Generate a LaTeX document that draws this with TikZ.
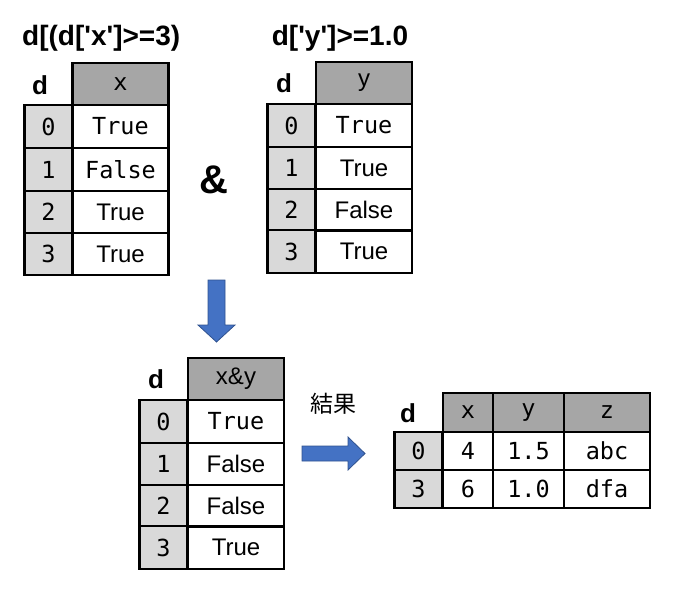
\documentclass[tikz,border=0pt]{standalone}
\usepackage{fontspec}
\setmainfont{Liberation Sans}[Ligatures=TeXOff]
\newfontfamily\monofont{DejaVu Sans Mono}
\newfontfamily\cjkfont{Noto Sans CJK JP}
\definecolor{hdrgray}{HTML}{A6A6A6}
\definecolor{idxgray}{HTML}{D9D9D9}
\definecolor{arrowblue}{HTML}{4472C4}
\definecolor{arrowedge}{HTML}{2F528F}
\tikzset{cell/.style={draw,line width=2.2pt,inner sep=0pt,minimum height=42.5pt,
font=\fontsize{24}{26}\selectfont},
mcell/.style={cell,font=\monofont\fontsize{23.5}{25}\selectfont},
hdr/.style={fill=hdrgray},
idx/.style={mcell,fill=idxgray,minimum width=48pt},
valcol/.style={minimum width=96pt},
title/.style={font=\bfseries\fontsize{28}{30}\selectfont},
dlabel/.style={font=\bfseries\fontsize{26}{28}\selectfont},
blockarrow/.style={fill=arrowblue,draw=arrowedge,line width=0.8pt}}

\begin{document}
\begin{tikzpicture}[x=1pt,y=-1pt]
\useasboundingbox (0,0) rectangle (678,594);
% table x
\node[title,anchor=west,inner sep=0pt] (tx) at (22,38) {d[(d['x']>=3)};
\node[dlabel] (dx) at (40,85) {d};
\node[mcell,hdr,valcol] (x-h) at (120.5,84) {x};
\node[idx] (x-i0) at (48.5,126.5) {0};
\node[idx] (x-i1) at (48.5,169.5) {1};
\node[idx] (x-i2) at (48.5,212) {2};
\node[idx] (x-i3) at (48.5,254) {3};
\node[mcell,valcol] (x-v0) at (120.5,126.5) {True};
\node[mcell,valcol] (x-v1) at (120.5,169.5) {False};
\node[cell,valcol] (x-v2) at (120.5,212) {True};
\node[cell,valcol] (x-v3) at (120.5,254) {True};

\node[font=\bfseries\fontsize{40}{42}\selectfont] (amp) at (214,180) {\&};

% table y
\node[title] (ty) at (340,38) {d['y']>=1.0};
\node[dlabel] (dy) at (284,83) {d};
\node[cell,hdr,valcol] (y-h) at (364,83) {y};
\node[idx] (y-i0) at (291.5,125.5) {0};
\node[idx] (y-i1) at (291.5,168) {1};
\node[idx] (y-i2) at (291.5,210) {2};
\node[idx] (y-i3) at (291.5,251.5) {3};
\node[mcell,valcol] (y-v0) at (364,125.5) {True};
\node[cell,valcol] (y-v1) at (364,168) {True};
\node[cell,valcol] (y-v2) at (364,210) {False};
\node[cell,valcol] (y-v3) at (364,251.5) {True};

% down arrow
\draw[blockarrow] (208,280) -- (225,280) -- (225,325) -- (235,325) -- (216.5,342)
-- (198,325) -- (208,325) -- cycle;

% table x&y
\node[dlabel] (dxy) at (156,379) {d};
\node[cell,hdr,valcol] (xy-h) at (236,379) {x\&y};
\node[idx] (xy-i0) at (163.5,421.5) {0};
\node[idx] (xy-i1) at (163.5,464) {1};
\node[idx] (xy-i2) at (163.5,506) {2};
\node[idx] (xy-i3) at (163.5,547.5) {3};
\node[mcell,valcol] (xy-v0) at (236,421.5) {True};
\node[cell,valcol] (xy-v1) at (236,464) {False};
\node[cell,valcol] (xy-v2) at (236,506) {False};
\node[cell,valcol] (xy-v3) at (236,547.5) {True};

% right arrow
\node[font=\cjkfont\fontsize{23}{25}\selectfont] (res) at (333,404) {結果};
\draw[blockarrow] (302,446) -- (348,446) -- (348,437) -- (365,453.5) -- (348,470)
-- (348,461) -- (302,461) -- cycle;

% result
\node[dlabel] (dr) at (408,413) {d};
\node[mcell,hdr,minimum width=50pt,minimum height=39pt] (r-hx) at (468,412.5) {x};
\node[mcell,hdr,minimum width=71pt,minimum height=39pt] (r-hy) at (528.5,412.5) {y};
\node[mcell,hdr,minimum width=86pt,minimum height=39pt] (r-hz) at (607,412.5) {z};
\node[idx,minimum height=38pt] (r-i0) at (418.5,451) {0};
\node[idx,minimum height=38pt] (r-i3) at (418.5,489) {3};
\node[mcell,minimum width=50pt,minimum height=38pt] (r-x0) at (468,451) {4};
\node[mcell,minimum width=71pt,minimum height=38pt] (r-y0) at (528.5,451) {1.5};
\node[mcell,minimum width=86pt,minimum height=38pt] (r-z0) at (607,451) {abc};
\node[mcell,minimum width=50pt,minimum height=38pt] (r-x3) at (468,489) {6};
\node[mcell,minimum width=71pt,minimum height=38pt] (r-y3) at (528.5,489) {1.0};
\node[mcell,minimum width=86pt,minimum height=38pt] (r-z3) at (607,489) {dfa};
\end{tikzpicture}
\end{document}
